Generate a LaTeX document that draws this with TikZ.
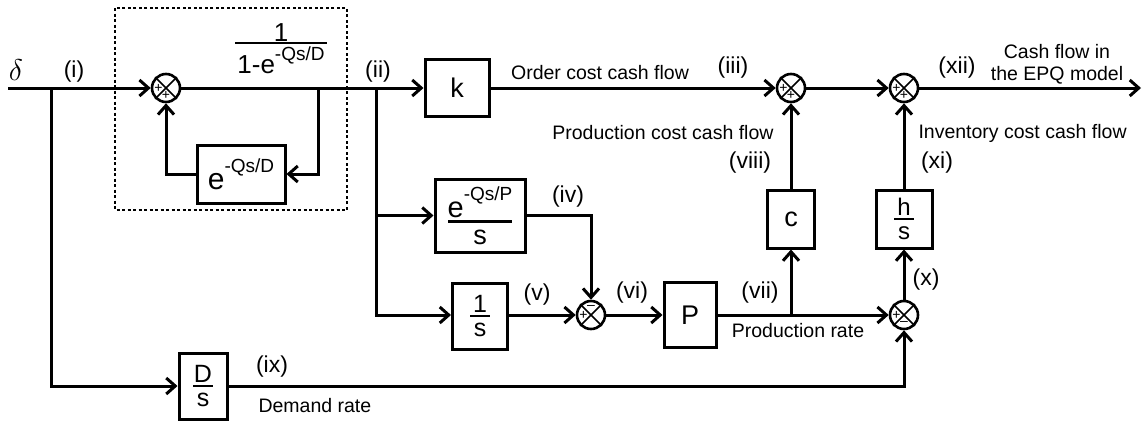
\RequirePackage{fix-cm}
\documentclass[tikz,border=0pt]{standalone}
\usepackage{amsmath}
\usepackage{fontspec}
\setmainfont{Liberation Sans}
\usetikzlibrary{arrows.meta}
\newcommand{\sups}[2][0.5em]{\raisebox{#1}{\fontsize{19}{20}\selectfont #2}}
\newcommand{\bfr}[3]{$\genfrac{}{}{2.2pt}{1}{\makebox[#1]{#2}}{\makebox[#1]{\rule{0pt}{0.72em}#3}}$}
\begin{document}
\begin{tikzpicture}[x=1pt,y=-1pt,
  line width=3pt,
  >={Straight Barb[length=9pt,width=16pt]},
  blk/.style={draw,line width=3pt,inner sep=0pt,font=\fontsize{27}{30}\selectfont},
  sumj/.style={circle,draw,line width=2.6pt,minimum size=28pt,inner sep=0pt},
  xline/.style={line width=1.6pt},
  sgn/.style={inner sep=0pt,font=\fontsize{14}{14}\selectfont},
  lab/.style={inner sep=0pt,font=\fontsize{23}{25}\selectfont},
  txt/.style={inner sep=0pt,font=\fontsize{19.5}{22}\selectfont},
]
\useasboundingbox (0,0) rectangle (1142,421);

% dashed group box
\draw[line width=1.4pt,dash pattern=on 3pt off 2.5pt] (115,8) rectangle (347,210);

% sums
\node[sumj] (s1) at (166,88) {};
\node[sumj] (s3) at (791,88) {};
\node[sumj] (s12) at (904,88) {};
\node[sumj] (s6) at (591,315) {};
\node[sumj] (sx) at (904,315) {};
\foreach \s in {s1,s3,s12,s6,sx}{
  \draw[xline] (\s.north west) -- (\s.south east) (\s.north east) -- (\s.south west);
}
\node[sgn] (s1a) at ([xshift=-7.5pt]s1.center) {+};
\node[sgn] (s1b) at ([yshift=-7.5pt]s1.center) {+};
\node[sgn] (s3a) at ([xshift=-7.5pt]s3.center) {+};
\node[sgn] (s3b) at ([yshift=-7.5pt]s3.center) {+};
\node[sgn] (s12a) at ([xshift=-7.5pt]s12.center) {+};
\node[sgn] (s12b) at ([yshift=-7.5pt]s12.center) {+};
\node[sgn] (s6a) at ([xshift=-7.5pt]s6.center) {+};
\node[sgn] (s6b) at ([yshift=8pt]s6.center) {--};
\node[sgn] (sxa) at ([xshift=-7.5pt]sx.center) {+};
\node[sgn] (sxb) at ([yshift=-8pt]sx.center) {--};

% blocks
\node[blk,minimum width=88pt,minimum height=58pt] (fbb) at (241,174) {\fontsize{30}{32}\selectfont e\sups[0.57em]{-Qs/D}};
\node[blk,minimum width=64pt,minimum height=57pt] (k) at (457,88) {k};
\node[blk,minimum width=90pt,minimum height=73pt] (eP) at (480,215.5) {\bfr{64pt}{\fontsize{29}{30}\selectfont e\sups[0.6em]{-Qs/P}}{s}};
\node[blk,minimum width=55pt,minimum height=66pt,font=\fontsize{25}{28}\selectfont] (oneS) at (480,316) {\bfr{20pt}{1}{s}};
\node[blk,minimum width=52pt,minimum height=65pt] (P) at (690,315) {P};
\node[blk,minimum width=47pt,minimum height=58pt] (c) at (791,219) {c};
\node[blk,minimum width=56pt,minimum height=58pt,font=\fontsize{24}{26}\selectfont] (hs) at (904,219) {\bfr{20pt}{h}{s}};
\node[blk,minimum width=48pt,minimum height=66pt,font=\fontsize{25}{28}\selectfont] (Ds) at (203,386) {\bfr{20pt}{D}{s}};

% coordinates
\coordinate (in) at (8,88);
\coordinate (bi) at (51,88);
\coordinate (fb) at (318,88);
\coordinate (bii) at (376,88);
\coordinate (bvii) at (791,315);
\coordinate (out) at (1141,88);

% connectors
\draw[->] (in) -- (s1.west);
\draw[->] (bi) |- (Ds.west);
\draw[->] (s1.east) -- (k.west);
\draw[->] (fb) |- (fbb.east);
\draw[->] (fbb.west) -| (s1.south);
\draw[->] (bii) |- (eP.west);
\draw[->] (bii) |- (s6.west -| oneS.west);
\draw[->] (oneS.east |- s6.west) -- (s6.west);
\draw[->] (k.east) -- (s3.west);
\draw[->] (s3.east) -- (s12.west);
\draw[->] (s12.east) -- (out);
\draw[->] (eP.east) -| (s6.north);
\draw[->] (s6.east) -- (P.west);
\draw[->] (P.east) -- (sx.west);
\draw[->] (bvii) -- (c.south);
\draw[->] (c.north) -- (s3.south);
\draw[->] (sx.north) -- (hs.south);
\draw[->] (hs.north) -- (s12.south);
\draw[->] (Ds.east) -| (sx.south);

% group transfer function label
\node[inner sep=0pt,font=\fontsize{26}{28}\selectfont,anchor=base] (lfbn) at (281,41) {1};
\draw[line width=2.2pt] (235,43) -- (327,43);
\node[inner sep=0pt,font=\fontsize{26}{28}\selectfont,anchor=base] (lfbd) at (281,73) {1-e\sups{-Qs/D}};

% labels
\node[inner sep=0pt,font=\fontsize{30}{30}\selectfont] (delta) at (16,70) {$\delta$};
\node[lab] (li) at (74,72) {(i)};
\node[lab] (lii) at (378,72) {(ii)};
\node[lab] (liii) at (733,68) {(iii)};
\node[lab] (lxii) at (957,68) {(xii)};
\node[txt,align=center] (lcash) at (1057,64) {Cash flow in\\the EPQ model};
\node[txt] (lorder) at (600,73) {Order cost cash flow};
\node[txt,anchor=east] (lprod) at (775,133) {Production cost cash flow};
\node[lab] (lviii) at (750,163) {(viii)};
\node[txt,anchor=west] (linv) at (917,133) {Inventory cost cash flow};
\node[lab] (lxi) at (937,163) {(xi)};
\node[lab] (liv) at (568,197) {(iv)};
\node[lab] (lv) at (537,295) {(v)};
\node[lab] (lvi) at (632,293) {(vi)};
\node[lab] (lvii) at (760,293) {(vii)};
\node[txt] (lprate) at (798,331) {Production rate};
\node[lab] (lx) at (926,280) {(x)};
\node[lab] (lix) at (272,367) {(ix)};
\node[txt,anchor=west] (ldem) at (257,406) {Demand rate};
\end{tikzpicture}
\end{document}
